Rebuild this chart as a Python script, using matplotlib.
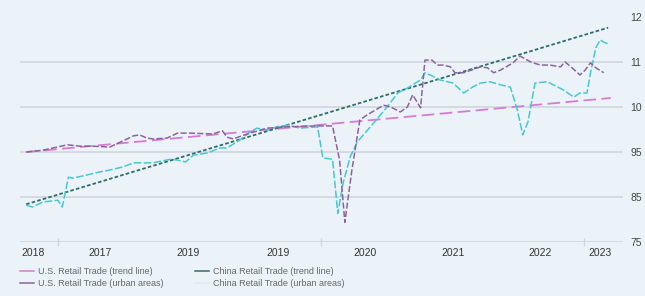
import numpy as np
import matplotlib
matplotlib.use("Agg")
import matplotlib.pyplot as plt
from matplotlib.lines import Line2D

plt.rcParams['font.family'] = ['Liberation Sans', 'DejaVu Sans']

# US retail trade (urban areas), decimal year / index
us_x = [2016.16, 2016.35, 2016.51, 2016.63, 2016.77, 2016.92, 2017.11, 2017.23, 2017.38, 2017.45,
        2017.53, 2017.60, 2017.76, 2017.88, 2018.02, 2018.28, 2018.39, 2018.44, 2018.51, 2018.70,
        2018.90, 2019.13, 2019.48, 2019.64, 2019.72, 2019.78, 2019.86, 2019.95, 2020.03, 2020.22,
        2020.30, 2020.41, 2020.49, 2020.55, 2020.60, 2020.64, 2020.69, 2020.77, 2020.83, 2020.90,
        2020.98, 2021.03, 2021.13, 2021.32, 2021.40, 2021.47, 2021.55, 2021.69, 2021.77, 2021.89,
        2022.00, 2022.11, 2022.23, 2022.28, 2022.36, 2022.45, 2022.51, 2022.57, 2022.63, 2022.72]
us_v = [90.0, 90.4, 91.1, 91.6, 91.3, 91.3, 91.1, 92.2, 93.6, 93.8,
        93.1, 92.9, 93.1, 94.2, 94.2, 94.0, 94.7, 93.3, 92.9, 94.2,
        95.3, 95.6, 95.8, 95.8, 88.2, 74.4, 86.0, 97.1, 98.2, 100.4,
        100.0, 98.9, 100.0, 102.7, 101.1, 99.8, 110.4, 110.4, 109.3, 109.3,
        108.9, 107.6, 107.6, 108.9, 108.7, 107.6, 108.2, 109.8, 111.3, 110.0,
        109.3, 109.3, 108.9, 110.0, 108.7, 107.1, 108.2, 109.8, 108.7, 107.6]

# China retail trade (urban areas)
cn_x = [2016.16, 2016.23, 2016.35, 2016.52, 2016.57, 2016.64, 2016.69, 2016.85, 2017.00, 2017.11,
        2017.26, 2017.38, 2017.60, 2017.80, 2017.88, 2017.97, 2018.06, 2018.22, 2018.36, 2018.44,
        2018.59, 2018.70, 2018.78, 2018.90, 2019.01, 2019.13, 2019.27, 2019.47, 2019.53, 2019.64,
        2019.70, 2019.76, 2019.84, 2019.92, 2020.07, 2020.26, 2020.38, 2020.49, 2020.64, 2020.69,
        2020.75, 2020.86, 2021.01, 2021.13, 2021.23, 2021.32, 2021.43, 2021.55, 2021.66, 2021.74,
        2021.80, 2021.86, 2021.94, 2022.08, 2022.15, 2022.26, 2022.38, 2022.45, 2022.53, 2022.57,
        2022.63, 2022.68, 2022.72, 2022.77]
cn_v = [78.2, 77.8, 78.9, 79.3, 77.8, 84.4, 84.2, 84.9, 85.6, 86.0,
        86.7, 87.6, 87.6, 88.4, 88.2, 87.8, 89.3, 89.8, 90.9, 90.9,
        92.7, 94.4, 95.3, 94.9, 95.6, 96.0, 95.3, 95.6, 88.7, 88.4,
        76.4, 83.1, 88.9, 92.2, 95.6, 100.0, 103.1, 104.2, 106.0, 107.6,
        107.1, 106.0, 105.3, 103.1, 104.4, 105.3, 105.6, 104.9, 104.4, 99.3,
        93.8, 96.7, 105.3, 105.6, 104.9, 103.8, 102.2, 103.1, 103.1, 107.6,
        113.1, 114.9, 114.4, 114.0]

# trend lines (start / end)
us_trend_x = [2016.16, 2022.80]
us_trend_v = [90.0, 102.0]
cn_trend_x = [2016.16, 2022.77]
cn_trend_v = [78.4, 117.6]

grid_vals = [70, 80, 90, 100, 110]
ytick_vals = [70, 80, 90, 100, 110, 120]
ytick_labels = ['75', '85', '95', '10', '11', '12']
xtick_pos = [2016.24, 2017.0, 2018.0, 2019.02, 2020.01, 2021.01, 2022.0, 2022.68]
xtick_labels = ['2018', '2017', '2019', '2019', '2020', '2021', '2022', '2023']
xmark_pos = [2016.52, 2019.51, 2022.50]

bg = '#ebf3f9'
c_us_trend = '#d77ad3'
c_us = '#8c62a0'
c_cn_trend = '#2f6d69'
c_cn = '#45c8d4'

fig = plt.figure(figsize=(6.45, 2.96), dpi=100, facecolor=bg)
ax = fig.add_axes([0.031, 0.182, 0.935, 0.761], facecolor=bg)

for g in grid_vals:
    ax.axhline(g, color='#d0d5da', lw=1.2, zorder=0)

ax.plot(us_trend_x, us_trend_v, color=c_us_trend, lw=1.3, dashes=(7, 3))
ax.plot(cn_trend_x, cn_trend_v, color=c_cn_trend, lw=1.3, dashes=(2, 1.2))
ax.plot(cn_x, cn_v, color=c_cn, lw=1.1, dashes=(5, 1.5))
ax.plot(us_x, us_v, color=c_us, lw=1.1, dashes=(4, 1.5))

ax.set_xlim(2016.09, 2022.94)
ax.set_ylim(70, 120)
for s in ax.spines.values():
    s.set_visible(False)

ax.yaxis.tick_right()
ax.set_yticks(ytick_vals)
ax.set_yticklabels(ytick_labels)
ax.tick_params(axis='y', length=0, pad=5, labelsize=7.5, labelcolor='#444444')

ax.set_xticks(xtick_pos)
ax.set_xticklabels(xtick_labels)
ax.set_xticks(xmark_pos, minor=True)
ax.tick_params(axis='x', which='major', length=0, pad=4, labelsize=7.5, labelcolor='#333333')
ax.tick_params(axis='x', which='minor', length=6, direction='inout', color='#d0d5da', width=1)

handles = [
    Line2D([], [], color=c_us_trend, lw=1.1),
    Line2D([], [], color=c_us, lw=1.1),
    Line2D([], [], color=c_cn_trend, lw=1.1),
    Line2D([], [], color='#dcedf2', lw=1.1),
]
labels = ['U.S. Retail Trade (trend line)', 'U.S. Retail Trade (urban areas)',
          'China Retail Trade (trend line)', 'China Retail Trade (urban areas)']
fig.legend(handles, labels, ncol=2, loc='lower left', bbox_to_anchor=(0.018, 0.0),
           frameon=False, fontsize=6.5, labelcolor='#666666', handlelength=1.6,
           handletextpad=0.4, columnspacing=3.5, labelspacing=0.3)

fig.savefig('out.png', dpi=100, facecolor=bg)
